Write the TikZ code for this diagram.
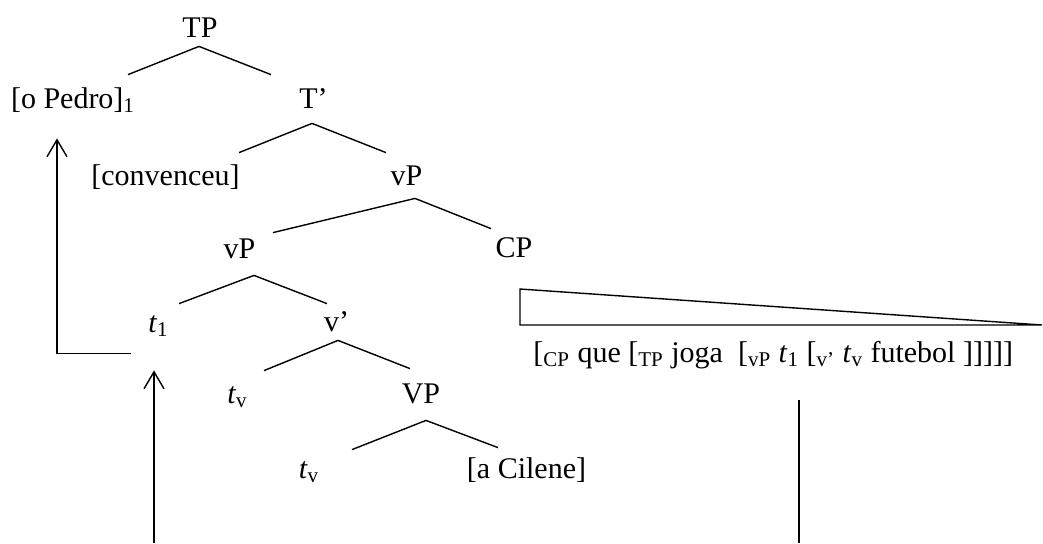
\documentclass[tikz,border=0pt]{standalone}
\usepackage{fontspec}
\setmainfont{Liberation Serif}
\usetikzlibrary{calc,arrows.meta}

\begin{document}
\begin{tikzpicture}[x=0.5pt, y=-0.5pt]
\useasboundingbox (0,0) rectangle (1043,543);

\coordinate (P_TP) at (200, 37);
\coordinate (P_DP1) at (73, 108);
\coordinate (P_Tb) at (313.5, 108);
\coordinate (P_V) at (165.5, 185);
\coordinate (P_vP1) at (406.5, 185);
\coordinate (P_vP2) at (239.5, 258);
\coordinate (P_CP) at (514, 257);
\coordinate (P_t1) at (158.5, 332);
\coordinate (P_vb) at (336.5, 331);
\coordinate (P_tv1) at (237.5, 403);
\coordinate (P_VP) at (421, 403);
\coordinate (P_tv2) at (309, 478);
\coordinate (P_DP2) at (526.5, 478);
\coordinate (P_CPx) at (533, 362);
\coordinate (R_1) at (520, 289);
\coordinate (R_2) at (520, 325);
\coordinate (R_3) at (1042, 325);
\coordinate (M_foot) at (154, 543);
\coordinate (C_top) at (799, 400);
\coordinate (C_foot) at (799, 543);


\tikzset{LabelStyle/.style = {
 font = \fontsize{15}{18}\selectfont,
 anchor = base,
 inner sep = 0pt,
 text height = 15pt,
 text depth = 6.5pt} }

\node[LabelStyle] (N_TP) at (P_TP) {TP};
\node[LabelStyle] (N_DP1) at (P_DP1) {[o Pedro]\textsubscript{1}};
\node[LabelStyle] (N_Tb) at (P_Tb) {T'};
\node[LabelStyle] (N_V) at (P_V) {[convenceu]};
\node[LabelStyle] (N_vP1) at (P_vP1) {vP};
\node[LabelStyle] (N_vP2) at (P_vP2) {vP};
\node[LabelStyle] (N_CP) at (P_CP) {CP};
\node[LabelStyle] (N_t1) at (P_t1) {\textit{t}\textsubscript{1}};
\node[LabelStyle] (N_vb) at (P_vb) {v'};
\node[LabelStyle] (N_tv1) at (P_tv1) {\textit{t}\textsubscript{v}};
\node[LabelStyle] (N_VP) at (P_VP) {VP};
\node[LabelStyle] (N_tv2) at (P_tv2) {\textit{t}\textsubscript{v}};
\node[LabelStyle] (N_DP2) at (P_DP2) {[a Cilene]};
\node[LabelStyle, anchor=base west] (N_CPx) at (P_CPx) {[\textsubscript{CP} que [\textsubscript{TP} joga\ \ [\textsubscript{vP} \textit{t}\textsubscript{1} [\textsubscript{v'} \textit{t}\textsubscript{v} futebol ]]]]]};


\tikzset{BranchStyle/.style = {line width=0.7pt} }

\draw[BranchStyle] ($(N_TP.south)+(-1,-4)$) -- ($(N_DP1.north)+(55,-3)$);
\draw[BranchStyle] ($(N_TP.south)+(-1,-4)$) -- ($(N_Tb.north)+(-42.5,-3)$);
\draw[BranchStyle] ($(N_Tb.south)+(-1.5,2)$) -- ($(N_V.north)+(73.5,-2)$);
\draw[BranchStyle] ($(N_Tb.south)+(-1.5,2)$) -- ($(N_vP1.north)+(-20.5,-2)$);
\draw[BranchStyle] ($(N_vP1.south)+(8.5,0)$) -- ($(N_vP2.north)+(33.5,5)$);
\draw[BranchStyle] ($(N_vP1.south)+(8.5,0)$) -- ($(N_CP.north)+(-23,2)$);
\draw[BranchStyle] ($(N_vP2.south)+(14.5,4)$) -- ($(N_t1.north)+(20.5,2)$);
\draw[BranchStyle] ($(N_vP2.south)+(14.5,4)$) -- ($(N_vb.north)+(-9.5,3)$);
\draw[BranchStyle] ($(N_vb.south)+(1.5,-4)$) -- ($(N_tv1.north)+(26.5,-2)$);
\draw[BranchStyle] ($(N_vb.south)+(1.5,-4)$) -- ($(N_VP.north)+(-11,-4)$);
\draw[BranchStyle] ($(N_VP.south)+(5,4)$) -- ($(N_tv2.north)+(43,2)$);
\draw[BranchStyle] ($(N_VP.south)+(5,4)$) -- ($(N_DP2.north)+(-28.5,0)$);
\draw[BranchStyle] (R_1) -- (R_3) -- (R_2) -- cycle;
\draw[BranchStyle] (C_top) -- (C_foot);


\tikzset{MoveStyle/.style = {
 line width = 0.7pt,
 -{Straight Barb[length=8.5pt, width=10pt]}} }

\draw[MoveStyle] ($(N_t1.south)+(-27.5,8)$) -| ($(N_DP1.south)+(-16,17)$);
\draw[MoveStyle] (M_foot) -- ($(N_t1.south)+(-4.5,25)$);

\end{tikzpicture}
\end{document}
